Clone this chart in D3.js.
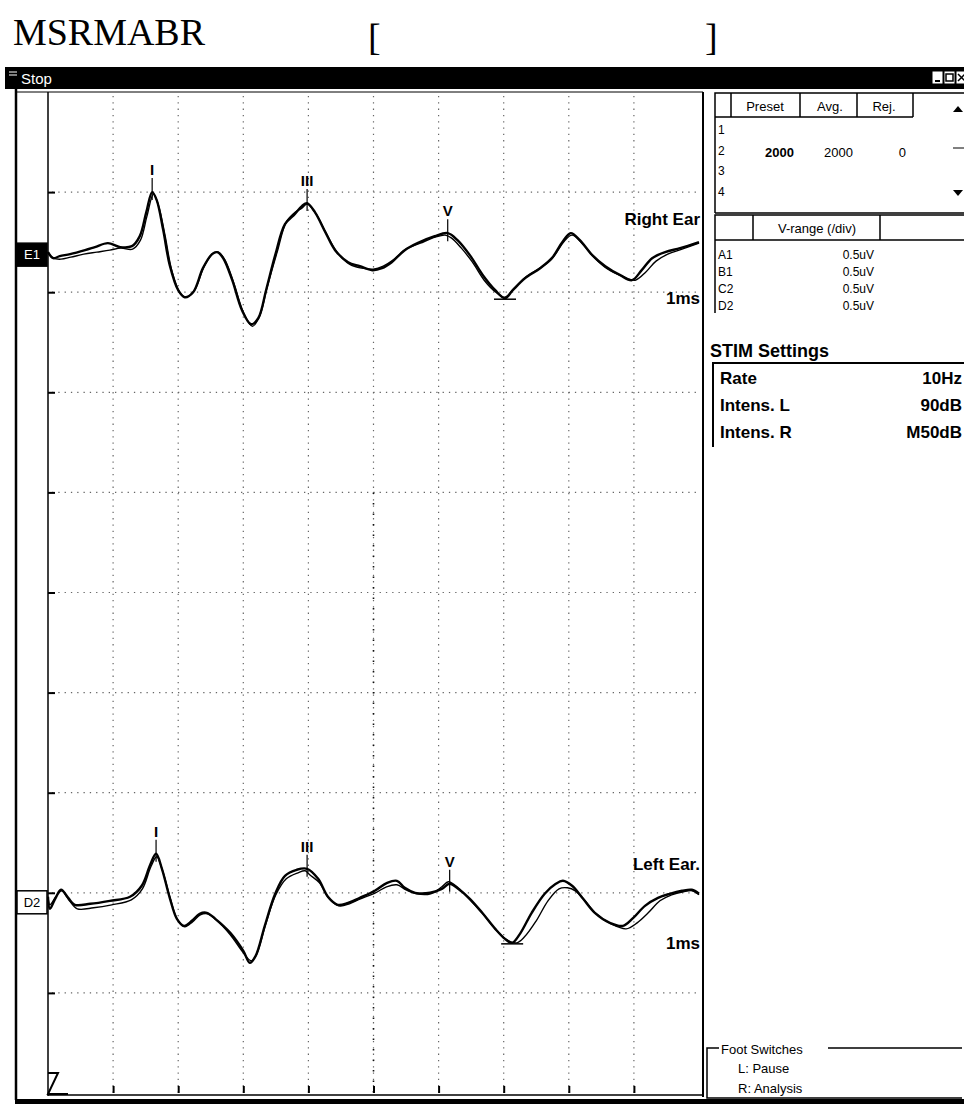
<!DOCTYPE html>
<html>
<head>
<meta charset="utf-8">
<script src="https://cdn.jsdelivr.net/npm/d3@7"></script>
<style>
    body { margin: 0; background: #fff; }
    svg text { font-family: "Liberation Sans", Arial, sans-serif; }
    .grid line { stroke: #666; stroke-width: 1.2; stroke-dasharray: 1.3 5; }
    .axis path { display: none; }
    .axis line { stroke: #000; stroke-width: 2; }
    .trace { fill: none; stroke: #000; stroke-linejoin: round; }
</style>
</head>
<body>
<svg id="abr" width="964" height="1104"></svg>
<script>
// time in ms, amplitude in uV (0.5uV / div)
const rightEarA = [
    [0, 0], [0.08, -0.03], [0.18, -0.02], [0.34, -0.01], [0.57, 0.01], [0.72, 0.025], [0.92, 0.045],
    [1.11, 0.025], [1.29, 0.03], [1.41, 0.08], [1.51, 0.2], [1.6, 0.3], [1.67, 0.26], [1.77, 0.11],
    [1.87, -0.065], [2.0, -0.19], [2.1, -0.225], [2.23, -0.2], [2.38, -0.08], [2.52, -0.01], [2.6, 0.0],
    [2.69, -0.03], [2.83, -0.14], [2.98, -0.29], [3.12, -0.36], [3.23, -0.33], [3.35, -0.19], [3.49, -0.015],
    [3.64, 0.14], [3.79, 0.19], [3.9, 0.23], [3.98, 0.245], [4.1, 0.2], [4.26, 0.1], [4.41, 0.01],
    [4.61, -0.05], [4.79, -0.07], [4.98, -0.09], [5.13, -0.08], [5.28, -0.05], [5.48, 0.01], [5.71, 0.05],
    [5.94, 0.08], [6.14, 0.095], [6.29, 0.06], [6.48, -0.015], [6.68, -0.115], [6.87, -0.19], [7.02, -0.23],
    [7.14, -0.19], [7.33, -0.13], [7.56, -0.08], [7.74, -0.03], [7.9, 0.05], [8.03, 0.095], [8.17, 0.06],
    [8.36, -0.015], [8.56, -0.07], [8.79, -0.115], [8.97, -0.14], [9.12, -0.09], [9.28, -0.03], [9.48, 0.0],
    [9.71, 0.02], [10, 0.05]
];
const rightEarB = [
    [0, 0], [0.08, -0.03], [0.2, -0.035], [0.35, -0.025], [0.55, -0.01], [0.75, 0.0], [0.95, 0.01],
    [1.12, 0.02], [1.3, 0.015], [1.42, 0.06], [1.52, 0.18], [1.62, 0.29], [1.7, 0.23], [1.8, 0.08],
    [1.9, -0.09], [2.02, -0.2], [2.12, -0.225], [2.25, -0.19], [2.4, -0.07], [2.54, -0.005], [2.62, 0.0],
    [2.72, -0.04], [2.86, -0.16], [3.0, -0.3], [3.14, -0.37], [3.25, -0.32], [3.37, -0.17], [3.52, 0.0],
    [3.66, 0.15], [3.8, 0.2], [3.9, 0.22], [3.98, 0.24], [4.12, 0.19], [4.28, 0.09], [4.44, 0.0],
    [4.63, -0.06], [4.82, -0.08], [5.0, -0.085], [5.15, -0.07], [5.3, -0.04], [5.5, 0.015], [5.72, 0.045],
    [5.95, 0.075], [6.1, 0.085], [6.2, 0.07], [6.35, 0.02], [6.52, -0.05], [6.7, -0.14], [6.88, -0.2],
    [7.02, -0.225], [7.16, -0.18], [7.35, -0.12], [7.58, -0.075], [7.76, -0.025], [7.93, 0.055], [8.05, 0.085],
    [8.2, 0.045], [8.4, -0.03], [8.6, -0.085], [8.82, -0.12], [9.02, -0.14], [9.18, -0.1], [9.34, -0.045],
    [9.52, -0.01], [9.74, 0.015], [10, 0.045]
];
const leftEarA = [
    [0, 0], [0.03, -0.06], [0.11, -0.01], [0.2, 0.035], [0.31, -0.005], [0.41, -0.04], [0.65, -0.035],
    [0.95, -0.02], [1.26, 0.0], [1.44, 0.055], [1.57, 0.16], [1.66, 0.215], [1.75, 0.14], [1.87, -0.005],
    [1.98, -0.11], [2.09, -0.145], [2.21, -0.12], [2.33, -0.085], [2.44, -0.08], [2.57, -0.11], [2.8, -0.18],
    [3.0, -0.27], [3.1, -0.33], [3.19, -0.295], [3.33, -0.145], [3.49, 0.015], [3.64, 0.105], [3.82, 0.135],
    [3.98, 0.14], [4.15, 0.09], [4.3, 0.0], [4.45, -0.04], [4.61, -0.03], [4.79, -0.005], [5.02, 0.03],
    [5.21, 0.07], [5.36, 0.08], [5.48, 0.045], [5.64, 0.02], [5.87, 0.02], [6.05, 0.04], [6.17, 0.065],
    [6.3, 0.04], [6.48, -0.01], [6.67, -0.08], [6.87, -0.16], [7.02, -0.21], [7.13, -0.23], [7.25, -0.185],
    [7.43, -0.08], [7.63, 0.015], [7.8, 0.065], [7.91, 0.08], [8.05, 0.055], [8.22, -0.01], [8.4, -0.08],
    [8.63, -0.13], [8.83, -0.145], [8.99, -0.105], [9.17, -0.045], [9.37, -0.005], [9.55, 0.015], [9.74, 0.03],
    [9.89, 0.035], [10, 0.015]
];
const leftEarB = [
    [0, 0], [0.03, -0.04], [0.12, 0.0], [0.21, 0.03], [0.33, -0.02], [0.45, -0.06], [0.7, -0.055],
    [0.98, -0.04], [1.28, -0.015], [1.45, 0.04], [1.58, 0.15], [1.67, 0.2], [1.76, 0.13], [1.88, -0.01],
    [1.99, -0.115], [2.1, -0.15], [2.22, -0.125], [2.34, -0.09], [2.45, -0.085], [2.58, -0.115], [2.8, -0.19],
    [3.0, -0.28], [3.12, -0.32], [3.2, -0.29], [3.35, -0.13], [3.5, 0.01], [3.66, 0.09], [3.84, 0.12],
    [3.95, 0.13], [4.02, 0.11], [4.17, 0.07], [4.32, -0.01], [4.47, -0.045], [4.63, -0.035], [4.8, -0.01],
    [5.03, 0.02], [5.2, 0.05], [5.36, 0.06], [5.5, 0.035], [5.66, 0.015], [5.88, 0.015], [6.05, 0.05],
    [6.15, 0.075], [6.3, 0.045], [6.48, -0.015], [6.68, -0.085], [6.88, -0.165], [7.05, -0.215], [7.2, -0.23],
    [7.32, -0.2], [7.5, -0.12], [7.68, -0.02], [7.85, 0.04], [7.98, 0.045], [8.1, 0.03], [8.25, -0.02],
    [8.42, -0.085], [8.65, -0.135], [8.88, -0.16], [9.05, -0.13], [9.22, -0.08], [9.4, -0.02], [9.58, 0.01],
    [9.76, 0.025], [9.9, 0.03], [10, 0.01]
];

const waveLabels = ['I', 'III', 'V'];
const rightPeakTimes = [1.6, 3.98, 6.14];
const leftPeakTimes = [1.66, 3.98, 6.17];
const rightTroughTime = 7.02;
const leftTroughTime = 7.13;

const presetHeaders = ['Preset', 'Avg.', 'Rej.'];
const presetRows = ['1', '2', '3', '4'];
const presetValues = ['2000', '2000', '0'];
const vRangeChannels = ['A1', 'B1', 'C2', 'D2'];
const vRangeValues = ['0.5uV', '0.5uV', '0.5uV', '0.5uV'];
const stimNames = ['Rate', 'Intens. L', 'Intens. R'];
const stimValues = ['10Hz', '90dB', 'M50dB'];

class AbrScreen {

    _svg;
    _x;
    _y;

    constructor(svgId) {
        this._svg = d3.select(`#${svgId}`);

        // 10 ms over 10 divisions, 10 vertical divisions of 0.5uV
        this._x = d3.scaleLinear().domain([0, 10]).range([48, 699]);
        this._y = d3.scaleLinear().domain([0, 5]).range([92, 1093]);

        this._drawHeader();
        this._drawWindow();
        this._drawGrid();
        this._drawChannel(rightEarA, rightEarB, 0.8, rightPeakTimes, rightTroughTime, 'Right Ear', 'E1');
        this._drawChannel(leftEarA, leftEarB, 4.02, leftPeakTimes, leftTroughTime, 'Left Ear.', 'D2');
        this._drawPanel();
    }

    _drawHeader() {
        this._svg.append('text')
            .attr('x', 13).attr('y', 45)
            .attr('textLength', 192)
            .style('font-family', '"Liberation Serif", "Times New Roman", serif')
            .style('font-size', '38px')
            .text('MSRMABR');
        this._svg.append('text').attr('x', 368).attr('y', 50)
            .style('font-family', '"Liberation Serif", serif').style('font-size', '38px').text('[');
        this._svg.append('text').attr('x', 705).attr('y', 50)
            .style('font-family', '"Liberation Serif", serif').style('font-size', '38px').text(']');
    }

    _drawWindow() {
        const svg = this._svg;
        svg.append('rect').attr('x', 5).attr('y', 67).attr('width', 959).attr('height', 22).attr('fill', '#000');
        svg.append('line').attr('x1', 9).attr('x2', 17).attr('y1', 72).attr('y2', 72).attr('stroke', '#fff');
        svg.append('line').attr('x1', 9).attr('x2', 17).attr('y1', 75).attr('y2', 75).attr('stroke', '#fff');
        svg.append('text').attr('x', 21).attr('y', 84).attr('fill', '#fff')
            .style('font-size', '15px').text('Stop');

        // min / max / close buttons
        [932, 944, 956].forEach((bx, i) => {
            svg.append('rect').attr('x', bx).attr('y', 71).attr('width', 11).attr('height', 13)
                .attr('fill', '#fff').attr('stroke', '#000');
            if (i === 0) {
                svg.append('line').attr('x1', bx + 3).attr('x2', bx + 8).attr('y1', 81).attr('y2', 81)
                    .attr('stroke', '#000').attr('stroke-width', 2);
            } else if (i === 1) {
                svg.append('rect').attr('x', bx + 2).attr('y', 74).attr('width', 7).attr('height', 7)
                    .attr('fill', 'none').attr('stroke', '#000').attr('stroke-width', 1.5);
            } else {
                svg.append('path').attr('d', `M${bx + 2},74 L${bx + 9},81 M${bx + 9},74 L${bx + 2},81`)
                    .attr('stroke', '#000').attr('stroke-width', 1.5);
            }
        });

        // frame lines
        svg.append('line').attr('x1', 16).attr('x2', 16).attr('y1', 89).attr('y2', 1100)
            .attr('stroke', '#000').attr('stroke-width', 2.5);
        svg.append('line').attr('x1', 48).attr('x2', 48).attr('y1', 92).attr('y2', 1096)
            .attr('stroke', '#000').attr('stroke-width', 1.5);
        svg.append('line').attr('x1', 16).attr('x2', 703).attr('y1', 92).attr('y2', 92)
            .attr('stroke', '#000').attr('stroke-width', 1);
        svg.append('line').attr('x1', 703).attr('x2', 703).attr('y1', 92).attr('y2', 1097)
            .attr('stroke', '#000').attr('stroke-width', 2);
        svg.append('line').attr('x1', 48).attr('x2', 703).attr('y1', 1095).attr('y2', 1095)
            .attr('stroke', '#000').attr('stroke-width', 1.5);
        svg.append('rect').attr('x', 15).attr('y', 1099).attr('width', 949).attr('height', 5).attr('fill', '#000');

        // Z marker, bottom left
        svg.append('path').attr('d', 'M48,1073 L58,1073 L48,1094 L68,1094')
            .attr('fill', 'none').attr('stroke', '#000').attr('stroke-width', 2);
    }

    _drawGrid() {
        const x = this._x;
        const y = this._y;
        const xs = x.ticks(10).filter(t => t > 0 && t < 10);
        const ys = y.ticks(10).filter(t => t > 0 && t < 5);

        const grid = this._svg.append('g').classed('grid', true);
        grid.selectAll('.v').data(xs).enter().append('line')
            .attr('x1', d => x(d)).attr('x2', d => x(d))
            .attr('y1', y(0) + 4).attr('y2', y(5));
        grid.selectAll('.h').data(ys).enter().append('line')
            .attr('x1', x(0) + 4).attr('x2', x(10))
            .attr('y1', d => y(d)).attr('y2', d => y(d));

        // darker dotted marker at 5 ms
        this._svg.append('line')
            .attr('x1', x(5)).attr('x2', x(5)).attr('y1', y(2.0)).attr('y2', y(5))
            .attr('stroke', '#111').attr('stroke-width', 1.6).attr('stroke-dasharray', '1.5 9');

        this._svg.append('g').classed('axis', true)
            .attr('transform', `translate(${x(0)},0)`)
            .call(d3.axisLeft(y).tickValues(ys).tickSize(-7).tickFormat(''));
        this._svg.append('g').classed('axis', true)
            .attr('transform', `translate(0,${y(5)})`)
            .call(d3.axisBottom(x).tickValues(xs).tickSize(-7).tickFormat(''));
    }

    _drawChannel(traceA, traceB, base, peakTimes, troughTime, name, code) {
        const x = this._x;
        const y = this._y;
        const svg = this._svg;
        const line = d3.line()
            .x(d => x(d[0]))
            .y(d => y(base - d[1]))
            .curve(d3.curveCatmullRom.alpha(0.5));

        svg.append('path').datum(traceB).classed('trace', true).attr('d', line).attr('stroke-width', 1.4);
        svg.append('path').datum(traceA).classed('trace', true).attr('d', line).attr('stroke-width', 2.4);

        const ampAt = t => {
            const i = d3.bisector(d => d[0]).center(traceA, t);
            return traceA[i][1];
        };

        peakTimes.forEach((t, i) => {
            const py = y(base - ampAt(t));
            svg.append('line').attr('x1', x(t)).attr('x2', x(t)).attr('y1', py - 14).attr('y2', py + 8)
                .attr('stroke', '#000').attr('stroke-width', 1.2);
            svg.append('text').attr('x', x(t)).attr('y', py - 17).attr('text-anchor', 'middle')
                .style('font-size', '15px').style('font-weight', 'bold').text(waveLabels[i]);
        });

        const ty = y(base - ampAt(troughTime));
        svg.append('line').attr('x1', x(troughTime) - 11).attr('x2', x(troughTime) + 11)
            .attr('y1', ty + 1).attr('y2', ty + 1).attr('stroke', '#000').attr('stroke-width', 1.5);

        svg.append('text').attr('x', 700).attr('y', y(base) - 27).attr('text-anchor', 'end')
            .style('font-size', '17px').style('font-weight', 'bold').text(name);
        svg.append('text').attr('x', 700).attr('y', y(base) + 52).attr('text-anchor', 'end')
            .style('font-size', '17px').style('font-weight', 'bold').text('1ms');

        // channel tag in the left strip
        const dark = code === 'E1';
        svg.append('rect').attr('x', 17).attr('y', y(base) - (dark ? 9 : 6)).attr('width', 30).attr('height', 23)
            .attr('fill', dark ? '#000' : '#fff').attr('stroke', '#000').attr('stroke-width', 1.5);
        svg.append('text').attr('x', 32).attr('y', y(base) + (dark ? 7 : 10)).attr('text-anchor', 'middle')
            .attr('fill', dark ? '#fff' : '#000').style('font-size', '13px').text(code);
    }

    _drawPanel() {
        const svg = this._svg;
        const stroke = sel => sel.attr('stroke', '#000').attr('fill', 'none');

        // preset table
        stroke(svg.append('path')).attr('stroke-width', 1.5)
            .attr('d', 'M715,213 L715,93 L964,93 M715,117 L913,117 M731,93 L731,117 M800,93 L800,117 M857,93 L857,117 M913,93 L913,117 M715,213 L964,213');
        const headX = [765, 830, 884];
        presetHeaders.forEach((h, i) => {
            svg.append('text').attr('x', headX[i]).attr('y', 111).attr('text-anchor', 'middle')
                .style('font-size', '13px').text(h);
        });
        presetRows.forEach((r, i) => {
            svg.append('text').attr('x', 718).attr('y', 134 + i * 20.5).style('font-size', '12px').text(r);
        });
        const valX = [794, 853, 906];
        presetValues.forEach((v, i) => {
            svg.append('text').attr('x', valX[i]).attr('y', 157).attr('text-anchor', 'end')
                .style('font-size', '13px').style('font-weight', i === 0 ? 'bold' : 'normal').text(v);
        });
        svg.append('path').attr('d', 'M953,112 L958,106 L963,112 Z').attr('fill', '#000');
        svg.append('line').attr('x1', 953).attr('x2', 964).attr('y1', 148).attr('y2', 148).attr('stroke', '#000');
        svg.append('path').attr('d', 'M953,190 L958,196 L963,190 Z').attr('fill', '#000');

        // v-range table
        stroke(svg.append('path')).attr('stroke-width', 1.5)
            .attr('d', 'M715,313 L715,215 L964,215 M715,240 L964,240 M753,215 L753,240 M880,215 L880,240');
        svg.append('text').attr('x', 817).attr('y', 233).attr('text-anchor', 'middle')
            .style('font-size', '13px').text('V-range (/div)');
        vRangeChannels.forEach((c, i) => {
            const ry = 259 + i * 17;
            svg.append('text').attr('x', 718).attr('y', ry).style('font-size', '12px').text(c);
            svg.append('text').attr('x', 874).attr('y', ry).attr('text-anchor', 'end')
                .style('font-size', '12px').text(vRangeValues[i]);
        });

        // stim settings
        svg.append('text').attr('x', 710).attr('y', 357)
            .style('font-size', '18px').style('font-weight', 'bold').text('STIM Settings');
        stroke(svg.append('path')).attr('stroke-width', 2).attr('d', 'M713,447 L713,363 L964,363');
        stimNames.forEach((n, i) => {
            const ry = 384 + i * 27;
            svg.append('text').attr('x', 720).attr('y', ry)
                .style('font-size', '17px').style('font-weight', 'bold').text(n);
            svg.append('text').attr('x', 962).attr('y', ry).attr('text-anchor', 'end')
                .style('font-size', '17px').style('font-weight', 'bold').text(stimValues[i]);
        });

        // foot switches group
        stroke(svg.append('path')).attr('stroke-width', 1.5)
            .attr('d', 'M719,1048 L707,1048 L707,1098 L962,1098 M828,1048 L962,1048');
        svg.append('text').attr('x', 721).attr('y', 1054).style('font-size', '13px').text('Foot Switches');
        svg.append('text').attr('x', 738).attr('y', 1073).style('font-size', '13px').text('L:  Pause');
        svg.append('text').attr('x', 738).attr('y', 1093).style('font-size', '13px').text('R:  Analysis');
    }
}

new AbrScreen('abr');
</script>
</body>
</html>
